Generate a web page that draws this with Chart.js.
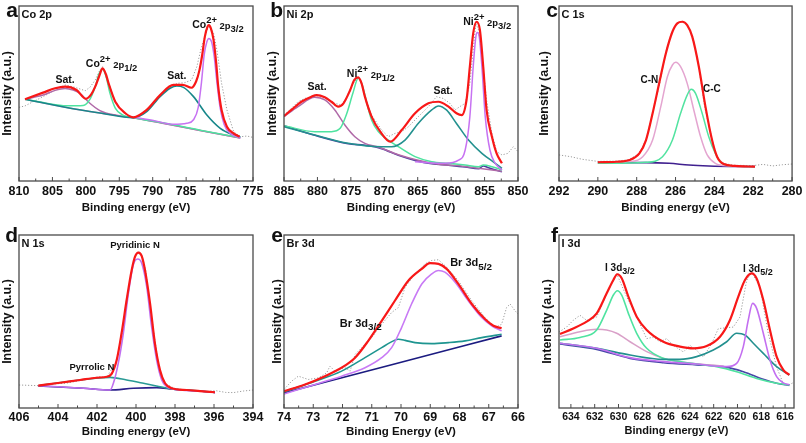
<!DOCTYPE html>
<html>
<head>
<meta charset="utf-8">
<script src="https://cdn.jsdelivr.net/npm/chart.js@4.4.0/dist/chart.umd.min.js"></script>
<style>
  html, body { margin: 0; padding: 0; background: #fff; }
  #wrap { position: relative; width: 806px; height: 443px; overflow: hidden; }
  canvas { position: absolute; }
</style>
</head>
<body>
<div id="wrap"></div>
<script>
const FONT = '"Liberation Sans", Arial, sans-serif';

// x tick labels for each panel
const aTicks = [810, 805, 800, 795, 790, 785, 780, 775];
const bTicks = [885, 880, 875, 870, 865, 860, 855, 850];
const cTicks = [292, 290, 288, 286, 284, 282, 280];
const dTicks = [406, 404, 402, 400, 398, 396, 394];
const eTicks = [74, 73, 72, 71, 70, 69, 68, 67, 66];
const fTicks = [634, 632, 630, 628, 626, 624, 622, 620, 618, 616];

// (a) Co 2p  — [binding energy eV, intensity a.u.]
const coRaw = [[810.0,42.1],[809.1,42.9],[807.9,45.3],[806.4,48.2],[804.6,52.0],[803.1,54.9],[801.6,53.5],[800.1,51.6],[799.4,53.5],[798.6,57.7],[797.9,63.4],[797.5,65.3],[796.9,59.6],[795.9,48.2],[794.9,41.5],[793.9,37.7],[792.9,36.6],[791.9,37.0],[790.7,41.5],[789.4,46.3],[787.9,52.0],[786.4,55.8],[785.2,56.2],[784.2,57.7],[783.4,65.3],[782.7,76.8],[781.9,86.3],[781.4,88.2],[780.9,84.4],[780.4,74.9],[779.7,55.8],[778.9,40.6],[777.9,28.2],[776.9,25.3],[775.9,25.7],[775.0,24.9]];
const coEnvelope = [[809.1,46.7],[806.4,50.5],[804.6,53.0],[803.1,53.9],[801.4,52.0],[800.0,47.0],[799.2,49.5],[798.6,53.9],[798.0,60.0],[797.5,64.4],[797.0,61.0],[796.6,55.8],[795.6,45.3],[794.1,38.7],[792.9,36.4],[790.9,40.6],[788.9,49.1],[786.9,54.9],[785.5,54.9],[784.2,53.3],[783.5,57.0],[783.0,63.5],[782.6,72.0],[782.2,82.5],[781.8,88.2],[781.6,89.1],[781.3,87.2],[780.9,80.6],[780.5,67.2],[780.2,53.9],[779.7,40.6],[778.9,31.0],[777.9,27.2],[777.0,25.3]];
const coSat1 = [[809.1,46.7],[806.4,49.1],[804.6,51.8],[803.1,52.9],[801.9,52.0],[800.9,50.1],[799.4,44.4],[797.9,40.2],[795.4,37.5],[792.9,36.2],[787.9,32.6],[782.9,28.8],[776.9,24.6]];
const coP12 = [[809.1,46.7],[806.0,44.5],[802.9,43.0],[800.4,43.2],[799.4,46.7],[798.6,53.9],[798.0,61.5],[797.5,63.8],[797.0,60.0],[796.4,50.3],[795.6,41.7],[794.4,37.5],[792.9,36.2],[787.9,32.8],[782.9,29.0],[776.9,24.8]];
const coSat2 = [[809.1,46.7],[802.9,42.0],[797.9,38.9],[792.9,36.2],[790.9,39.6],[788.9,48.2],[787.4,53.0],[786.4,54.3],[785.4,53.5],[783.9,48.2],[781.9,37.7],[779.9,30.1],[777.9,26.3],[776.9,25.3]];
const coP32 = [[792.9,36.4],[789.9,34.6],[786.9,32.4],[784.9,33.0],[783.9,35.0],[783.2,41.9],[782.7,56.6],[782.3,72.2],[781.9,79.6],[781.6,81.5],[781.2,79.6],[780.8,71.0],[780.4,56.6],[779.9,41.5],[779.3,32.2],[778.4,27.2],[776.9,24.6]];
const coBg = [[809.1,46.7],[802.9,42.0],[797.9,38.9],[792.9,36.2],[787.9,32.6],[782.9,28.8],[776.9,24.6]];

// (b) Ni 2p
const niRaw = [[885.0,37.7],[883.9,41.5],[882.9,45.3],[881.9,47.2],[880.4,48.2],[878.9,47.2],[877.4,44.4],[876.4,43.4],[875.6,48.2],[874.9,53.9],[874.1,58.7],[873.6,57.7],[872.9,48.2],[871.9,37.7],[870.4,29.1],[869.4,25.3],[868.4,27.2],[867.4,28.2],[866.4,31.0],[864.9,36.8],[863.4,42.5],[862.2,48.2],[861.2,47.2],[860.2,44.4],[859.4,40.6],[858.7,42.5],[857.9,44.4],[857.2,55.8],[856.7,74.9],[856.3,90.1],[855.9,86.3],[855.4,71.0],[854.7,46.3],[853.9,27.2],[853.2,16.8],[852.4,14.9],[851.5,15.8],[850.7,19.6],[850.0,16.8]];
const niEnvelope = [[885.0,37.1],[883.9,40.6],[882.4,45.3],[880.9,48.2],[880.1,49.1],[878.9,47.8],[877.9,45.3],[876.9,42.5],[876.1,44.4],[875.1,52.0],[874.5,57.7],[873.9,59.2],[873.4,55.8],[872.9,48.2],[871.9,36.8],[870.6,28.2],[869.1,22.5],[867.4,29.1],[865.4,38.7],[863.4,44.4],[861.9,45.3],[860.4,42.5],[859.2,38.7],[858.4,37.7],[857.7,46.3],[857.2,65.3],[856.7,84.4],[856.2,91.0],[855.7,86.3],[855.2,65.3],[854.7,40.6],[853.9,25.3],[853.2,15.8],[852.4,10.1]];
const niSat1 = [[885.0,36.8],[882.9,42.5],[880.4,47.8],[878.9,46.3],[877.4,40.6],[875.9,32.0],[874.4,25.3],[872.9,21.5],[870.9,19.4],[867.9,15.0],[862.9,10.2],[857.9,8.3],[855.9,7.3],[852.4,5.6]];
const niP12 = [[885.0,31.6],[880.4,28.2],[877.9,28.2],[876.6,30.1],[875.6,38.7],[874.7,50.1],[873.9,58.7],[873.3,54.9],[872.6,44.4],[871.9,34.9],[870.9,28.2],[869.4,23.4],[867.9,19.6],[865.4,13.9],[862.9,11.0],[860.4,10.1],[857.9,9.1],[855.9,8.2],[855.2,9.1],[853.9,8.2],[852.4,6.3]];
const niSat2 = [[885.0,31.0],[880.4,26.3],[875.4,21.6],[870.4,19.6],[868.9,19.6],[866.9,23.4],[864.9,33.0],[862.9,40.6],[861.9,42.9],[860.7,40.6],[859.2,32.9],[857.4,23.4],[855.4,15.8],[853.4,10.1],[852.4,7.2]];
const niP32 = [[865.4,11.0],[860.9,10.1],[858.9,11.9],[857.9,17.7],[857.2,36.8],[856.7,65.3],[856.3,82.5],[856.1,84.8],[855.8,82.5],[855.4,65.3],[854.9,36.8],[854.2,17.7],[853.4,10.1],[852.4,6.3]];
const niBg = [[885.0,31.6],[880.4,26.1],[875.4,21.3],[872.9,20.4],[870.4,18.5],[867.9,14.7],[865.4,11.8],[862.9,9.9],[860.4,9.0],[857.9,8.0],[855.9,7.0],[855.2,8.6],[854.4,7.6],[852.4,5.3]];

// (c) C 1s
const cRaw = [[292.0,14.9],[291.4,13.9],[290.8,12.4],[290.0,11.2],[289.0,11.4],[288.4,12.2],[287.9,15.5],[287.5,23.8],[287.2,38.0],[286.8,56.5],[286.5,73.5],[286.2,85.0],[285.9,90.5],[285.65,91.4],[285.4,89.5],[285.1,82.0],[284.8,65.0],[284.5,42.0],[284.1,23.0],[283.9,14.0],[283.5,10.0],[283.0,9.0],[282.0,8.8],[281.5,9.5],[281.0,8.6],[280.5,9.3],[280.0,9.7]];
const cEnvelope = [[290.0,10.7],[289.06,11.0],[288.37,12.0],[287.86,15.8],[287.52,23.4],[287.18,38.7],[286.84,56.0],[286.5,72.9],[286.16,85.3],[285.91,90.1],[285.65,91.0],[285.4,89.1],[285.14,82.5],[284.8,65.3],[284.46,42.5],[284.12,23.4],[283.86,13.9],[283.52,9.7],[282.93,8.6],[281.91,8.2]];
const cCN = [[290.0,10.3],[288.37,11.0],[287.69,13.9],[287.18,23.4],[286.76,42.5],[286.42,59.6],[286.16,66.3],[285.99,67.8],[285.74,65.3],[285.4,55.8],[285.06,40.6],[284.71,25.3],[284.37,14.9],[283.95,10.1],[283.27,8.6],[281.91,8.2]];
const cCC = [[290.0,10.1],[287.52,10.7],[286.67,13.9],[286.16,23.4],[285.74,38.7],[285.4,49.1],[285.19,52.4],[284.97,50.1],[284.63,38.7],[284.29,25.3],[283.95,15.8],[283.61,10.1],[282.93,8.6],[281.91,8.2]];
const cBg = [[290.0,10.5],[287.52,10.5],[286.33,10.1],[285.31,9.1],[284.29,8.6],[281.91,8.2]];

// (d) N 1s
const nRaw = [[406.0,13.3],[405.0,12.9],[404.4,13.8],[403.6,14.3],[402.5,16.6],[401.9,18.1],[401.5,17.7],[401.0,27.0],[400.7,44.0],[400.5,62.0],[400.2,80.5],[400.0,88.5],[399.85,90.3],[399.7,88.4],[399.5,79.5],[399.3,60.0],[399.0,37.0],[398.8,22.0],[398.5,14.0],[398.0,11.2],[397.4,10.4],[397.0,10.0],[396.5,9.5],[395.9,10.0],[395.4,9.0],[395.0,8.9],[394.5,9.8],[394.0,10.4]];
const nEnvelope = [[405.01,12.9],[403.9,14.6],[402.87,16.2],[402.02,17.5],[401.5,18.1],[401.25,19.7],[400.99,27.7],[400.74,43.2],[400.48,62.4],[400.22,79.8],[400.05,87.5],[399.88,89.8],[399.71,87.9],[399.54,79.8],[399.28,60.5],[399.03,37.4],[398.77,22.0],[398.51,14.3],[398.17,11.4],[397.4,10.4],[396.72,9.8],[395.95,9.1]];
const nPyridinic = [[405.01,12.9],[402.7,11.4],[401.33,10.4],[401.16,14.3],[400.91,25.8],[400.65,43.2],[400.39,66.3],[400.14,82.7],[399.91,86.1],[399.71,83.8],[399.45,70.1],[399.2,47.0],[398.94,27.7],[398.68,16.2],[398.43,12.3],[397.74,10.4],[396.72,9.8],[395.95,8.9]];
const nPyrrolic = [[405.01,12.9],[403.56,15.2],[402.53,16.6],[401.68,17.5],[401.33,17.7],[400.48,16.2],[399.62,14.3],[398.77,12.3],[398.09,10.8],[397.4,10.4],[395.95,9.1]];
const nBg = [[405.01,12.7],[402.7,11.4],[401.33,10.4],[400.14,11.4],[398.94,11.8],[398.09,10.8],[396.72,9.8],[395.95,8.9]];

// (e) Br 3d
const brRaw = [[74.0,10.7],[73.74,15.5],[73.51,18.4],[73.17,16.5],[72.83,17.4],[72.54,20.3],[72.43,24.2],[72.26,21.3],[71.91,23.3],[71.74,21.3],[71.57,31.0],[71.34,34.9],[71.0,40.7],[70.66,48.4],[70.32,55.2],[70.09,58.1],[69.86,69.8],[69.52,77.5],[69.18,83.3],[68.95,85.3],[68.72,85.7],[68.44,81.4],[68.04,73.6],[67.58,62.0],[67.13,52.3],[66.79,46.5],[66.56,48.4],[66.39,58.1],[66.27,60.1],[66.1,56.2],[66.0,54.3]];
const brEnvelope = [[74.0,9.7],[73.28,13.6],[72.6,18.4],[72.03,23.3],[71.57,29.1],[71.12,38.8],[70.66,50.4],[70.21,62.0],[69.75,73.6],[69.29,80.4],[69.01,83.7],[68.72,83.3],[68.44,80.4],[68.04,71.7],[67.58,60.1],[67.13,51.4],[66.84,47.5],[66.56,46.1]];
const br52 = [[74.0,8.1],[72.94,13.6],[72.03,18.4],[71.23,23.3],[70.66,29.1],[70.32,34.9],[69.98,46.5],[69.64,60.1],[69.29,71.7],[68.95,77.5],[68.72,79.5],[68.5,78.5],[68.15,72.7],[67.7,62.0],[67.24,52.3],[66.9,47.5],[66.56,44.6]];
const br32 = [[74.0,9.3],[72.94,15.5],[72.03,21.3],[71.23,29.1],[70.66,34.9],[70.26,38.8],[70.09,39.7],[69.86,39.1],[69.52,37.8],[68.95,37.2],[68.38,37.8],[67.81,38.8],[67.24,40.7],[66.56,42.6]];
const brBg = [[74.0,8.7],[70.32,25.0],[66.56,41.7]];

// (f) I 3d
const iRaw = [[635.0,43.9],[634.36,46.8],[633.8,50.7],[633.24,53.6],[632.68,50.7],[631.83,52.6],[630.99,66.1],[630.15,77.6],[629.31,64.2],[628.47,52.6],[627.63,40.1],[627.07,41.0],[626.51,38.2],[625.95,40.1],[625.39,36.2],[624.55,32.4],[623.99,36.2],[623.43,33.3],[622.87,29.5],[622.17,37.2],[621.61,45.9],[620.91,46.4],[620.35,46.8],[619.79,52.6],[619.23,73.8],[618.81,78.6],[618.11,69.8],[617.41,43.0],[616.71,23.7],[616.15,14.1],[615.73,13.1],[615.22,15.0]];
const iEnvelope = [[634.92,42.8],[633.8,46.0],[632.68,49.9],[631.83,54.7],[630.99,66.3],[630.43,74.0],[630.1,77.3],[629.73,75.0],[629.17,64.4],[628.47,52.8],[627.63,45.1],[626.23,38.3],[624.83,35.5],[623.71,34.5],[622.59,35.8],[621.47,41.2],[620.63,50.9],[619.93,64.4],[619.37,74.0],[618.81,77.8],[618.39,74.9],[617.83,62.4],[617.27,45.1],[616.71,29.7],[616.15,22.0],[615.64,19.1]];
const i32 = [[634.92,39.3],[633.24,40.8],[631.83,45.1],[630.99,56.6],[630.43,65.3],[630.1,67.8],[629.73,65.3],[629.17,54.7],[628.47,43.2],[627.63,34.5],[626.23,28.7],[624.83,26.8],[623.43,25.4],[621.75,23.9],[620.07,21.0],[618.39,17.1],[616.71,14.3],[615.64,13.3]];
const iSat = [[634.92,41.2],[633.24,44.1],[631.83,45.5],[630.99,45.1],[630.15,43.2],[629.03,38.3],[627.63,32.6],[626.23,28.7],[624.83,26.8],[623.43,25.6],[621.19,24.2]];
const i52Sat = [[634.92,37.4],[631.83,34.5],[629.03,30.6],[626.23,28.1],[624.83,28.1],[623.43,29.7],[622.03,33.5],[620.91,38.3],[620.07,43.2],[619.37,42.2],[618.67,37.4],[617.83,31.6],[616.71,23.9],[615.64,19.1]];
const i52 = [[634.92,37.4],[631.83,34.5],[629.03,29.1],[626.23,26.8],[623.43,25.4],[620.91,23.9],[620.07,25.8],[619.51,35.5],[619.09,50.9],[618.73,60.5],[618.39,57.6],[617.83,43.2],[617.27,27.7],[616.71,18.1],[616.15,14.5],[615.64,13.5]];
const iBg = [[634.92,37.0],[631.83,33.9],[629.03,28.7],[626.23,26.2],[623.43,24.9],[621.19,23.9],[619.51,21.0],[617.83,16.6],[616.71,14.3],[615.64,13.1]];

const RED = '#f81818', GRAY = '#9c9c9c';
const raw = d => ({ data: d, color: GRAY, width: 1, dash: [1.2, 1.8] });
const line = (d, color, width) => ({ data: d, color, width: width || 1.5 });

const row1 = { top: 0, height: 220, boxT: 6, boxB: 181, letterY: 17, titleY: 15, tickPad: 3.5, xTitlePad: 5 };
const row2 = { top: 220, height: 223, boxT: 235, boxB: 408, letterY: 242, titleY: 243.5, tickPad: 2.5, xTitlePad: 4 };

const panels = [
  { id: 'a', name: 'Co 2p', row: row1, left: 0, width: 268, boxL: 19, boxR: 253, xMin: 775, xMax: 810, ticks: aTicks,
    yTitlePad: 0.5, labelSize: 10.5,
    series: [line(coEnvelope, RED, 2.2), line(coP32, '#c772f2'), line(coSat2, '#17878a', 1.6), line(coP12, '#4fe3a0'),
             line(coSat1, '#b06aa8'), line(coBg, '#e08cc0'), raw(coRaw)],
    labels: [{ x: 803.1, y: 57.7, parts: ['Sat.'], align: 'center' },
             { x: 800.0, y: 66.9, parts: ['Co', '^2+', '~ 2p', '_1/2'] },
             { x: 786.4, y: 60.0, parts: ['Sat.'], align: 'center' },
             { x: 784.1, y: 89.1, parts: ['Co', '^2+', '~ 2p', '_3/2'] }] },
  { id: 'b', name: 'Ni 2p', row: row1, left: 265, width: 270, boxL: 284, boxR: 518, xMin: 850, xMax: 885, ticks: bTicks,
    yTitlePad: 0, labelSize: 10.5,
    series: [line(niEnvelope, RED, 2.2), line(niP32, '#c772f2'), line(niSat2, '#23918f', 1.6), line(niP12, '#4fe3a0'),
             line(niSat1, '#b06aa8'), line(niBg, '#4b3f9e', 1.6), raw(niRaw)],
    labels: [{ x: 880.06, y: 53.7, parts: ['Sat.'], align: 'center' },
             { x: 875.6, y: 61.1, parts: ['Ni', '^2+', '~ 2p', '_1/2'] },
             { x: 861.2, y: 51.4, parts: ['Sat.'], align: 'center' },
             { x: 858.2, y: 90.9, parts: ['Ni', '^2+', '~ 2p', '_3/2'] }] },
  { id: 'c', name: 'C 1s', row: row1, left: 537, width: 269, boxL: 559, boxR: 794, xMin: 280, xMax: 292, ticks: cTicks,
    yTitlePad: 0.5, labelSize: 10,
    series: [line(cEnvelope, RED, 2.2), line(cCC, '#52e3a0'), line(cCN, '#e4a5d0'), line(cBg, '#40208f', 1.6), raw(cRaw)],
    labels: [{ x: 287.35, y: 57.7, parts: ['C-N'], align: 'center' },
             { x: 284.13, y: 52.6, parts: ['C-C'], align: 'center' }] },
  { id: 'd', name: 'N 1s', row: row2, left: 0, width: 268, boxL: 19, boxR: 253, xMin: 394, xMax: 406, ticks: dTicks,
    yTitlePad: 0, labelSize: 9.5,
    series: [line(nEnvelope, RED, 2.2), line(nPyridinic, '#c070f0', 1.6), line(nPyrrolic, '#2a9a95', 1.6),
             line(nBg, '#2a1f8a', 1.6), raw(nRaw)],
    labels: [{ x: 400.05, y: 94.2, parts: ['Pyridinic N'], align: 'center' },
             { x: 402.26, y: 23.7, parts: ['Pyrrolic N'], align: 'center' }] },
  { id: 'e', name: 'Br 3d', row: row2, left: 265, width: 270, boxL: 284, boxR: 518, xMin: 66, xMax: 74, ticks: eTicks,
    yTitlePad: 5, labelSize: 11, xTitle: 'Binding Energy (eV)',
    series: [line(brEnvelope, RED, 2.2), line(br52, '#c87af5', 1.6), line(br32, '#1e9590', 1.6),
             line(brBg, '#1b1b80', 1.7), raw(brRaw)],
    labels: [{ x: 68.32, y: 84.0, parts: ['Br 3d', '_5/2'] },
             { x: 72.09, y: 48.8, parts: ['Br 3d', '_3/2'] }] },
  { id: 'f', name: 'I 3d', row: row2, left: 537, width: 269, boxL: 559, boxR: 794, xMin: 615.25, xMax: 635, ticks: fTicks,
    yTitlePad: 3, labelSize: 10, tickFont: 10.5, xTitleFont: 11, xTitlePad: 5, tickPad: 3,
    series: [line(iEnvelope, RED, 2.2), line(i52, '#c36ff0', 1.6), line(i52Sat, '#23908f', 1.6), line(i32, '#4fe3a0', 1.6),
             line(iSat, '#d9a0c8'), line(iBg, '#4848a8', 1.6), raw(iRaw)],
    labels: [{ x: 631.13, y: 80.9, parts: ['I 3d', '_3/2'] },
             { x: 619.54, y: 80.3, parts: ['I 3d', '_5/2'] }] }
];

function drawRich(ctx, x, y, parts, size, align) {
  const segs = parts.map(pt => {
    let mode = 0, txt = pt;
    if (pt[0] === '^') { mode = 1; txt = pt.slice(1); }
    else if (pt[0] === '_') { mode = -1; txt = pt.slice(1); }
    else if (pt[0] === '~') { mode = 2; txt = pt.slice(1); }
    const fs = mode === 0 ? size : size * 0.9;
    ctx.font = `bold ${fs}px ${FONT}`;
    return { txt, mode, fs, w: ctx.measureText(txt).width };
  });
  const total = segs.reduce((s, g) => s + g.w, 0);
  let cx = align === 'center' ? x - total / 2 : x;
  ctx.textAlign = 'left';
  ctx.textBaseline = 'middle';
  ctx.fillStyle = '#111';
  segs.forEach(g => {
    const dy = g.mode === 1 ? -size * 0.45 : g.mode === -1 ? size * 0.38 : g.mode === 2 ? size * 0.12 : 0;
    ctx.font = `bold ${g.fs}px ${FONT}`;
    ctx.fillText(g.txt, cx, y + dy);
    cx += g.w;
  });
}

function framePlugin(p) {
  return {
    id: 'frame_' + p.id,
    afterDraw(chart) {
      const { ctx, chartArea: a, scales: { x, y } } = chart;
      ctx.save();
      // box
      ctx.strokeStyle = '#4a4a4a';
      ctx.lineWidth = 1.3;
      ctx.strokeRect(a.left, a.top, a.right - a.left, a.bottom - a.top);
      // inward ticks, major + minor
      ctx.lineWidth = 1;
      ctx.beginPath();
      p.ticks.forEach((v, i) => {
        const px = x.getPixelForValue(v);
        ctx.moveTo(px, a.bottom); ctx.lineTo(px, a.bottom - 4);
        if (i < p.ticks.length - 1) {
          const m = x.getPixelForValue((v + p.ticks[i + 1]) / 2);
          ctx.moveTo(m, a.bottom); ctx.lineTo(m, a.bottom - 2.5);
        }
      });
      ctx.stroke();
      // panel letter and panel name
      ctx.fillStyle = '#111';
      ctx.font = `bold 21px ${FONT}`;
      ctx.textAlign = 'right';
      ctx.textBaseline = 'alphabetic';
      ctx.fillText(p.id, a.left - 1, p.row.letterY - p.row.top);
      ctx.font = `bold 11px ${FONT}`;
      ctx.textAlign = 'left';
      ctx.textBaseline = 'middle';
      ctx.fillText(p.name, a.left + 2.5, p.row.titleY - p.row.top);
      // peak annotations
      p.labels.forEach(l => {
        drawRich(ctx, x.getPixelForValue(l.x), y.getPixelForValue(l.y), l.parts, p.labelSize, l.align);
      });
      ctx.restore();
    }
  };
}

const wrap = document.getElementById('wrap');

panels.forEach(p => {
  const r = p.row;
  const cv = document.createElement('canvas');
  cv.width = p.width;
  cv.height = r.height;
  cv.style.left = p.left + 'px';
  cv.style.top = r.top + 'px';
  wrap.appendChild(cv);

  const yW = p.boxL - p.left;
  const xH = r.top + r.height - r.boxB;

  new Chart(cv, {
    type: 'line',
    data: {
      datasets: p.series.map(s => ({
        data: s.data.map(([x, y]) => ({ x, y })),
        borderColor: s.color,
        borderWidth: s.width,
        borderDash: s.dash || [],
        pointRadius: 0,
        fill: false,
        cubicInterpolationMode: s.dash ? 'default' : 'monotone',
        tension: s.dash ? 0 : 0.4
      }))
    },
    options: {
      responsive: false,
      animation: false,
      events: [],
      layout: { padding: { left: 0, right: p.left + p.width - p.boxR, top: r.boxT - r.top, bottom: 0 } },
      plugins: { legend: { display: false }, tooltip: { enabled: false } },
      scales: {
        x: {
          type: 'linear',
          reverse: true,
          min: p.xMin,
          max: p.xMax,
          afterBuildTicks: s => { s.ticks = p.ticks.map(v => ({ value: v })); },
          afterFit: s => { s.height = xH; },
          grid: { display: false, drawTicks: false },
          border: { display: false },
          ticks: {
            color: '#111',
            autoSkip: false,
            maxRotation: 0,
            padding: p.tickPad !== undefined ? p.tickPad : r.tickPad,
            font: { family: FONT, size: p.tickFont || 12.5, weight: 'bold' }
          },
          title: {
            display: true,
            text: p.xTitle || 'Binding energy (eV)',
            color: '#111',
            font: { family: FONT, size: p.xTitleFont || 11.5, weight: 'bold' },
            padding: { top: 0, bottom: p.xTitlePad !== undefined ? p.xTitlePad : r.xTitlePad }
          }
        },
        y: {
          min: 0,
          max: 100,
          afterFit: s => { s.width = yW; },
          grid: { display: false, drawTicks: false },
          border: { display: false },
          ticks: { display: false },
          title: {
            display: true,
            text: 'Intensity (a.u.)',
            color: '#111',
            font: { family: FONT, size: 12.5, weight: 'bold' },
            padding: { top: p.yTitlePad, bottom: 0 }
          }
        }
      }
    },
    plugins: [framePlugin(p)]
  });
});
</script>
</body>
</html>
